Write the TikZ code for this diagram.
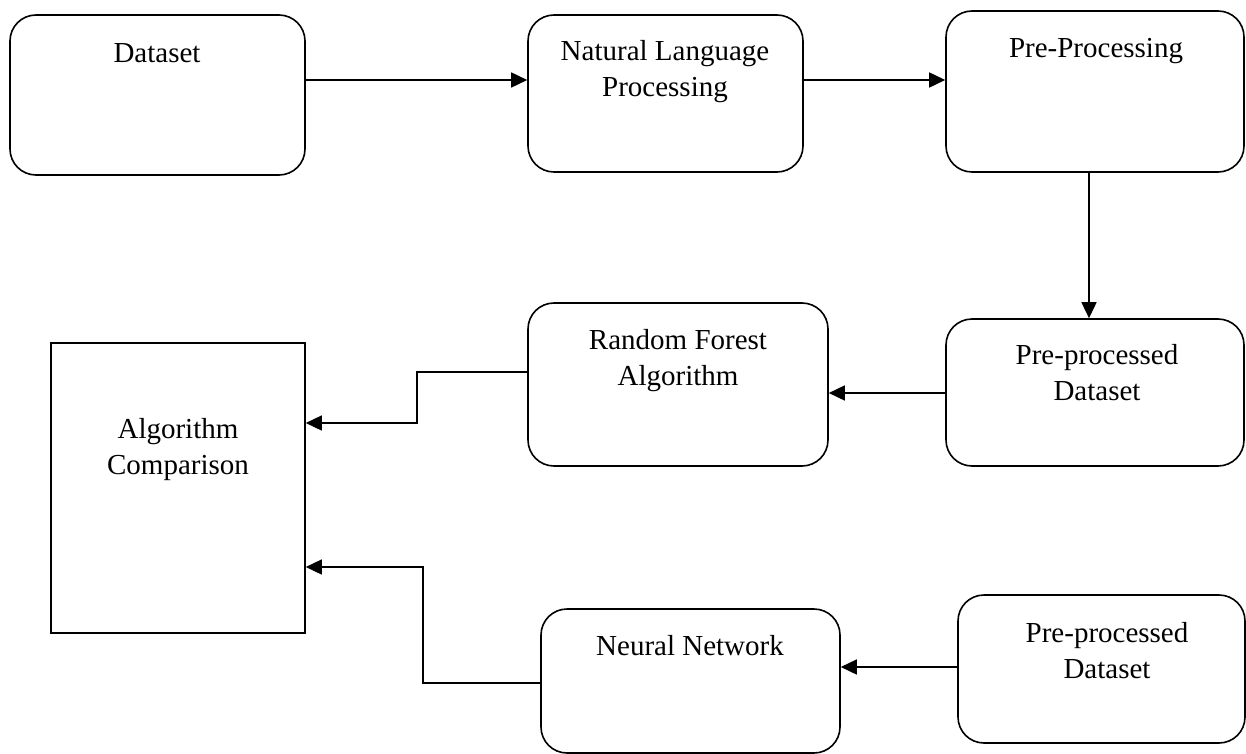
\documentclass[tikz,border=0pt]{standalone}
\usepackage{fontspec}
\setmainfont{Liberation Serif}
\usetikzlibrary{arrows.meta,calc}
\begin{document}
\begin{tikzpicture}[x=0.5pt,y=-0.5pt,
  rbox/.style={draw,line width=0.8pt,rounded corners=13pt,inner sep=0pt},
  sbox/.style={draw,line width=0.8pt,inner sep=0pt},
  txt/.style={inner sep=0pt,align=center,font=\fontsize{14.5}{18}\selectfont,anchor=base},
  arr/.style={line width=0.8pt,-{Triangle[length=8pt,width=7.5pt]}}]
\useasboundingbox (0,0) rectangle (1246,754);
% boxes
\node[rbox,minimum width=147.5pt,minimum height=80pt] (ds) at (157.5,95) {};
\node[rbox,minimum width=137.5pt,minimum height=78.5pt] (nlp) at (665.5,93.5) {};
\node[rbox,minimum width=149pt,minimum height=80.5pt] (pp) at (1095,91.5) {};
\node[rbox,minimum width=149pt,minimum height=73.5pt] (ppda) at (1095,392.5) {};
\node[rbox,minimum width=150pt,minimum height=81.5pt] (rf) at (678,384.5) {};
\node[sbox,minimum width=127pt,minimum height=145pt] (ac) at (178,488) {};
\node[rbox,minimum width=149.5pt,minimum height=72pt] (nn) at (690.5,681) {};
\node[rbox,minimum width=143.5pt,minimum height=74pt] (ppdb) at (1101.5,669) {};
% texts (anchor base = baseline of the last line)
\node[txt] (dsT) at (157,63) {Dataset};
\node[txt] (nlpT) at (665,97) {Natural Language\\Processing};
\node[txt] (ppT) at (1096,58) {Pre-Processing};
\node[txt] (ppdaT) at (1097,400) {Pre-processed\\Dataset};
\node[txt] (rfT) at (678,385) {Random Forest\\Algorithm};
\node[txt] (acT) at (178,474) {Algorithm\\Comparison};
\node[txt] (nnT) at (690,655) {Neural Network};
\node[txt] (ppdbT) at (1107,678) {Pre-processed\\Dataset};
% connectors
\draw[arr] (ds.east |- 0,80) -- (nlp.west |- 0,80);
\draw[arr] (nlp.east |- 0,80) -- (pp.west |- 0,80);
\draw[arr] (pp.south -| 1089,0) -- (ppda.north -| 1089,0);
\draw[arr] (ppda.west |- 0,393) -- (rf.east |- 0,393);
\draw[arr] (rf.west |- 0,372) -| (417,397) |- (ac.east |- 0,423);
\draw[arr] (nn.west |- 0,683) -| (423,620) |- (ac.east |- 0,567);
\draw[arr] (ppdb.west |- 0,667) -- (nn.east |- 0,667);
\end{tikzpicture}
\end{document}
